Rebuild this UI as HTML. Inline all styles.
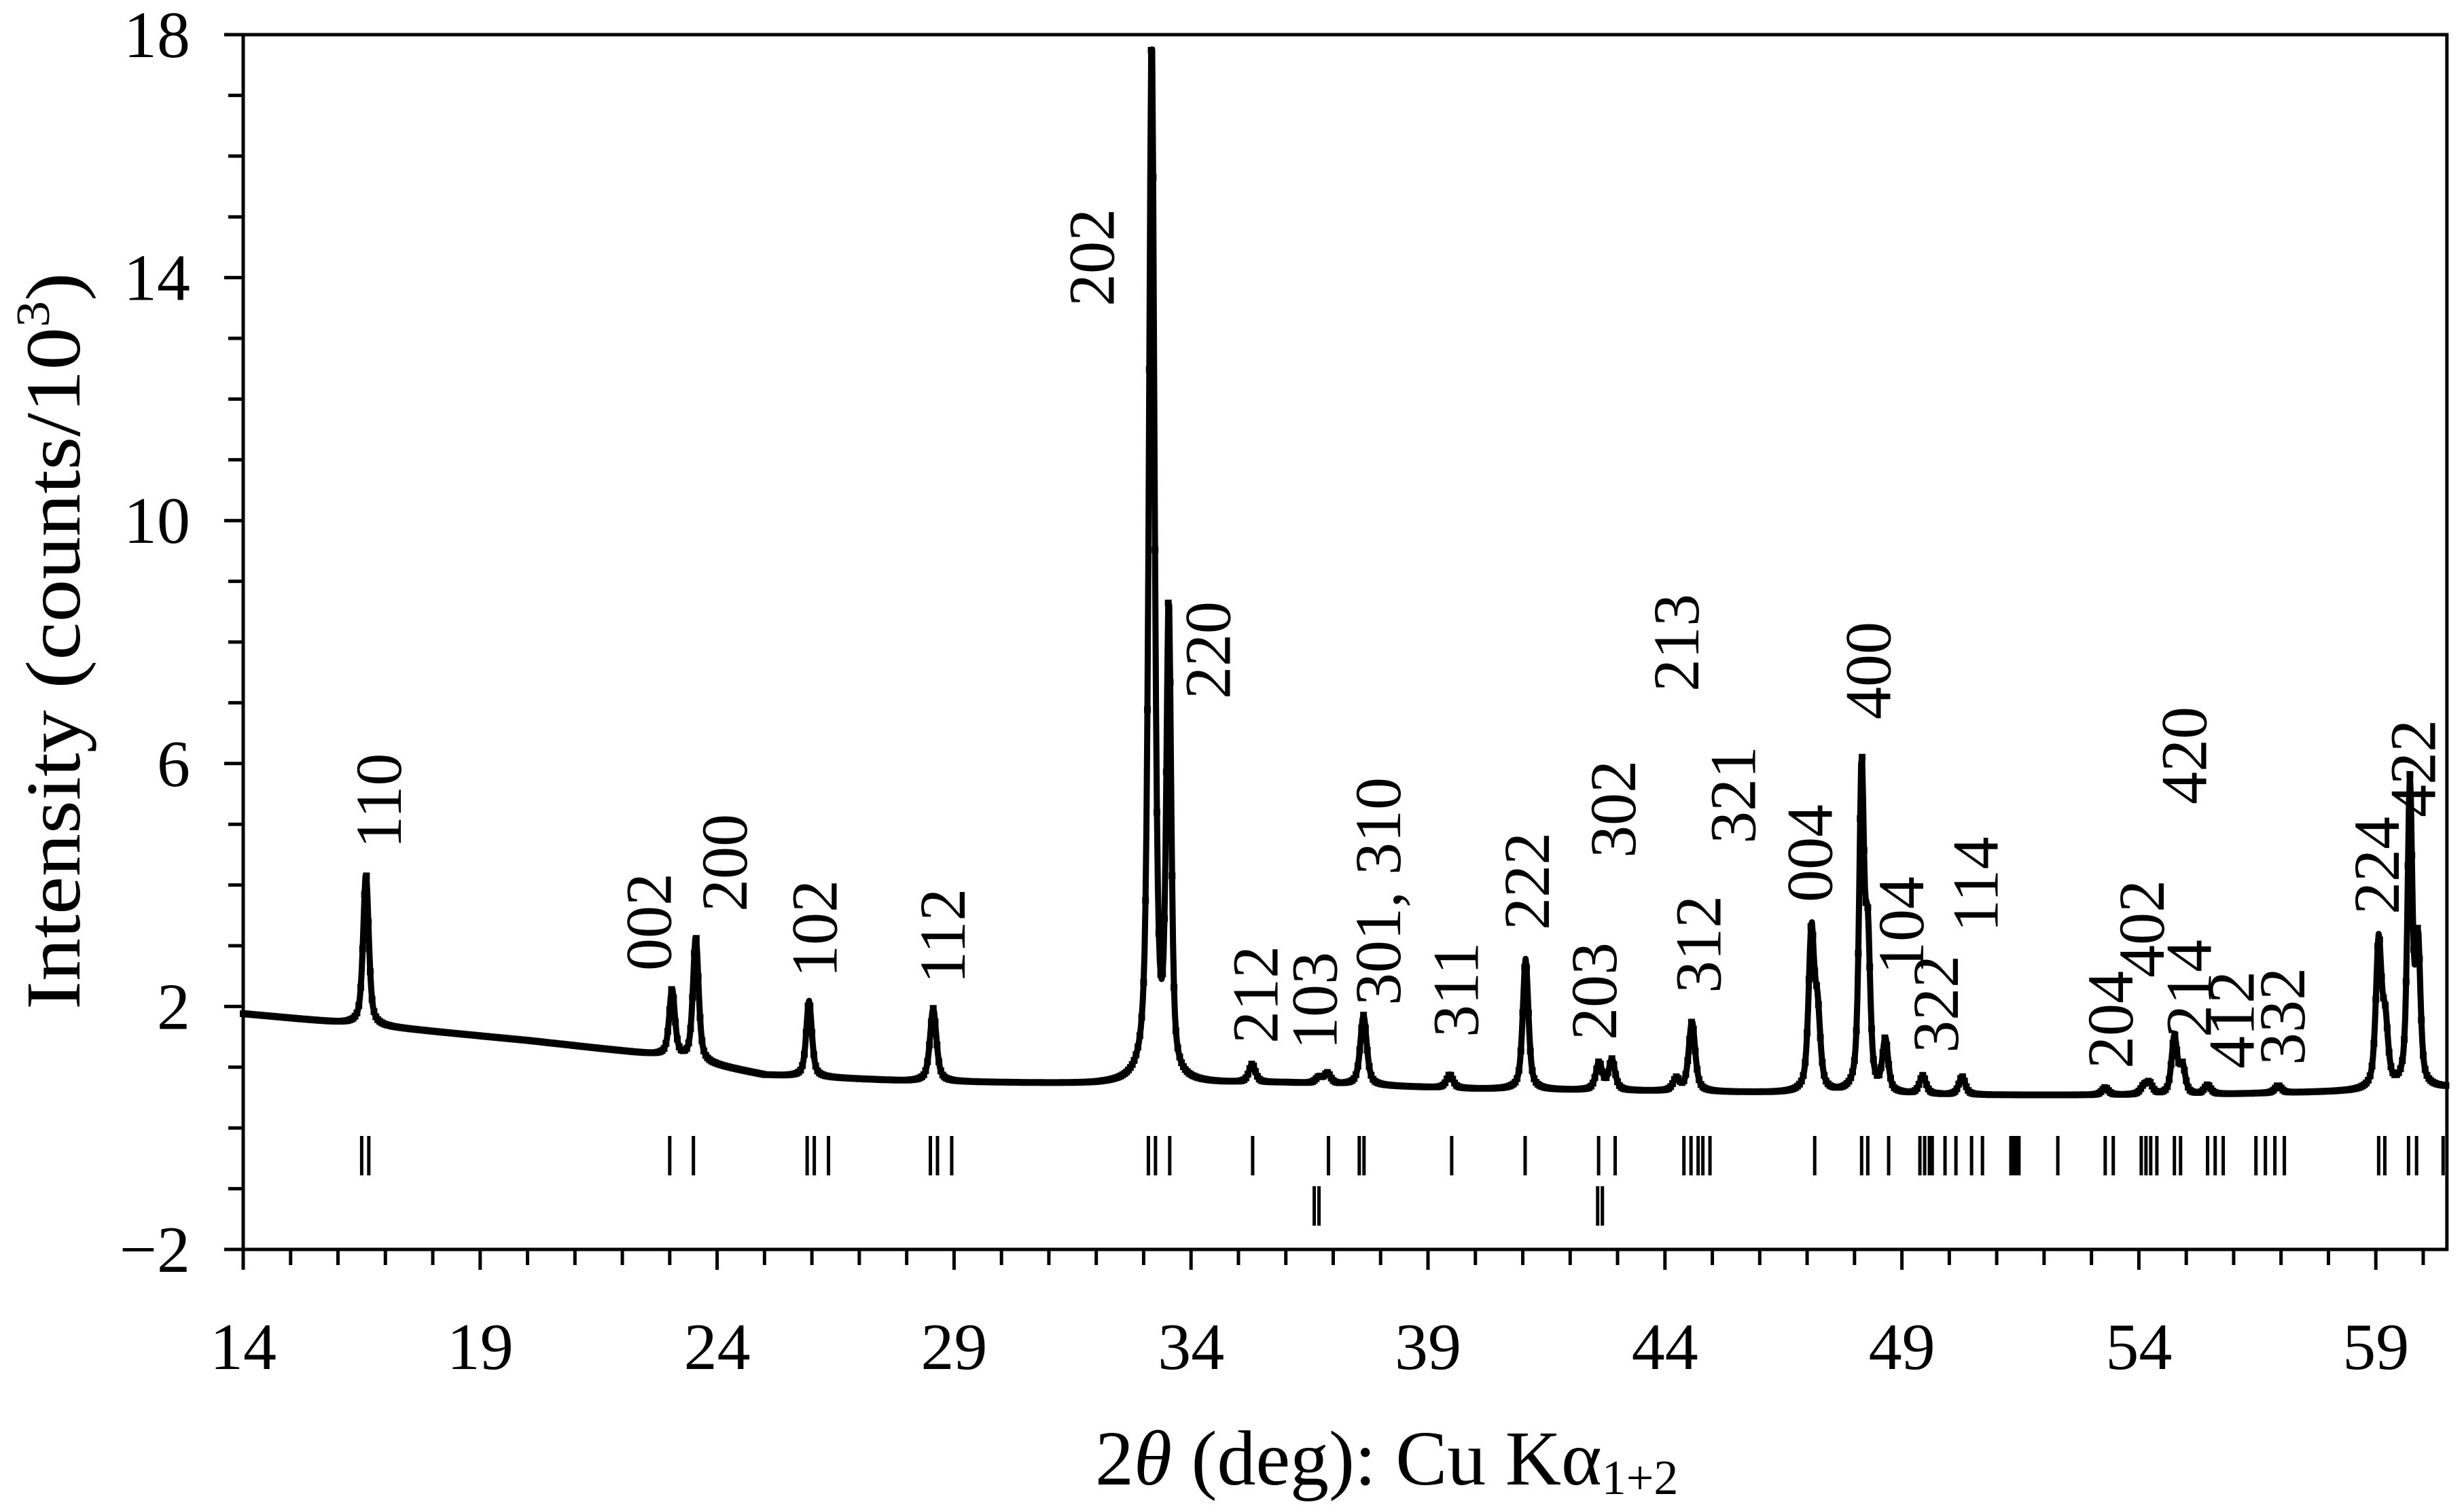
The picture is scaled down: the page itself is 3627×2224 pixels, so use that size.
<!DOCTYPE html>
<html><head><meta charset="utf-8"><style>
html,body{margin:0;padding:0;background:#fff;}
svg{display:block;}
text{font-family:"Liberation Serif",serif;fill:#000;}
</style></head><body>
<svg id="chart" width="3627" height="2224" viewBox="0 0 3627 2224" xmlns="http://www.w3.org/2000/svg">
<g id="plot"></g>
<g id="axes"></g>
<g id="labels"></g>
<text transform="translate(117,1486) rotate(-90)" font-size="114" textLength="1085" lengthAdjust="spacingAndGlyphs">Intensity (counts/10<tspan font-size="70" dy="-45">3</tspan><tspan dy="45">)</tspan></text>
<text x="1612" y="2185" font-size="114">2<tspan font-style="italic">θ</tspan> (deg): Cu Kα<tspan font-size="72" dy="14">1+2</tspan></text>
</svg>
<script>
// ---- data ----
const bgX = [14, 16.5, 20, 23, 25, 28, 32, 36, 40, 45, 50, 55, 58.5, 60.5];
const bgY = [1.88, 1.70, 1.44, 1.18, 0.87, 0.77, 0.72, 0.74, 0.64, 0.59, 0.54, 0.54, 0.60, 0.66];
const peakPos = [16.59, 23.05, 23.55, 25.94, 28.56, 33.17, 33.53, 35.29, 36.7, 36.88, 37.64, 39.46, 41.06, 42.61, 42.88, 44.24, 44.57, 47.09, 47.22, 48.15, 48.28, 48.65, 49.44, 50.27, 53.29, 54.1, 54.22, 54.75, 54.92, 55.45, 56.94, 59.06, 59.2, 59.72, 59.89];
const peakHt  = [2.5, 1.1, 2.05, 1.25, 1.2, 17.2, 7.7, 0.3, 0.1, 0.17, 1.15, 0.22, 2.15, 0.45, 0.5, 0.2, 1.15, 2.6, 1.2, 5.3, 2.4, 0.85, 0.3, 0.3, 0.12, 0.12, 0.18, 0.95, 0.45, 0.15, 0.12, 2.4, 1.0, 5.0, 2.3];
const peakW   = [0.07, 0.07, 0.07, 0.07, 0.08, 0.07, 0.06, 0.08, 0.08, 0.08, 0.08, 0.08, 0.07, 0.08, 0.08, 0.08, 0.08, 0.07, 0.07, 0.06, 0.06, 0.07, 0.08, 0.08, 0.08, 0.08, 0.08, 0.07, 0.07, 0.08, 0.08, 0.07, 0.07, 0.06, 0.06];
const refTicks1 = [16.5, 16.65, 23.0, 23.5, 25.9, 26.05, 26.35, 28.5, 28.65, 28.95, 33.1, 33.25, 33.55, 35.3, 36.9, 37.55, 37.65, 39.5, 41.05, 42.6, 42.95, 44.4, 44.55, 44.7, 44.8, 44.95, 47.16, 48.15, 48.28, 48.72, 49.38, 49.48, 49.58, 49.64, 49.91, 50.14, 50.47, 50.7, 51.3, 51.37, 51.43, 51.47, 52.29, 53.29, 53.46, 54.05, 54.15, 54.25, 54.38, 54.75, 54.88, 55.45, 55.61, 55.78, 56.47, 56.67, 56.87, 57.07, 59.06, 59.19, 59.69, 59.86, 60.42];
const refTicks2 = [36.6, 36.7, 42.58, 42.68];
const xTicks = [14, 19, 24, 29, 34, 39, 44, 49, 54, 59];
const yTicks = [-2, 2, 6, 10, 14, 18];
const hklLabels = ["110","002","200","102","112","202","220","212","103","301, 310","311","222","203","302","213","312","321","004","400","104","322","114","204","402","420","214","412","332","224","422"];
const hklX = [16.85, 22.55, 24.15, 26.05, 28.75, 31.9, 34.35, 35.35, 36.6, 37.94, 39.58, 41.08, 42.5, 42.9, 44.23, 44.7, 45.43, 47.05, 48.28, 48.98, 49.71, 50.55, 53.39, 54.05, 54.95, 55.05, 55.95, 57.02, 59.01, 59.78];
const hklBottom = [1249, 1429, 1342, 1439, 1448, 451, 1029, 1536, 1545, 1480, 1527, 1369, 1531, 1263, 1018, 1462, 1242, 1328, 1059, 1434, 1550, 1372, 1573, 1439, 1184, 1527, 1573, 1568, 1346, 1203];

// ---- axes functions ----
const X0 = 358, PXD = 69.76, XMIN = 14, XMAX = 60.5;
const Y0 = 1839, PYU = 89.4, YMIN = -2, YMAX = 18;
const sx = v => X0 + (v - XMIN) * PXD;
const sy = v => Y0 - (v - YMIN) * PYU;
const NS = 'http://www.w3.org/2000/svg';
function mk(tag, attrs, parent) {
  const e = document.createElementNS(NS, tag);
  for (const k in attrs) e.setAttribute(k, attrs[k]);
  parent.appendChild(e);
  return e;
}
function bg(x) {
  for (let i = 0; i < bgX.length - 1; i++) {
    if (x <= bgX[i + 1]) { const t = (x - bgX[i]) / (bgX[i + 1] - bgX[i]); return bgY[i] + t * (bgY[i + 1] - bgY[i]); }
  }
  return bgY[bgY.length - 1];
}
function intensity(x) {
  let y = bg(x);
  for (let i = 0; i < peakPos.length; i++) {
    const d = (x - peakPos[i]) / peakW[i];
    y += peakHt[i] * (0.6 / (1 + d * d) + 0.4 * Math.exp(-0.693 * d * d));
  }
  return y;
}
const plot = document.getElementById('plot');
const axes = document.getElementById('axes');
const labels = document.getElementById('labels');

// curve
let pts = [];
for (let x = XMIN; x <= XMAX + 1e-9; x += 0.02) pts.push([sx(x), sy(intensity(x))]);
const line = mk('polyline', {points: pts.map(p => p[0].toFixed(1) + ',' + p[1].toFixed(1)).join(' '), fill: 'none', stroke: '#000', 'stroke-width': 9, 'stroke-linejoin': 'round'}, plot);


const dots = mk('g', {}, plot);


let dpath = '';
for (let i = 0; i < pts.length; i += 2) dpath += 'M' + (pts[i][0] - 5).toFixed(1) + ' ' + pts[i][1].toFixed(1) + 'h10';
mk('path', {d: dpath, stroke: '#000', 'stroke-width': 10, fill: 'none'}, dots);

// reference ticks
refTicks1.forEach(v => {
  const r = mk('line', {x1: sx(v), x2: sx(v), y1: 1672, y2: 1730, stroke: '#000', 'stroke-width': 5}, plot);
  
  
});
refTicks2.forEach(v => {
  const r = mk('line', {x1: sx(v), x2: sx(v), y1: 1746, y2: 1804, stroke: '#000', 'stroke-width': 5}, plot);
  
  
});

// frame
const frame = mk('path', {d: `M${X0} ${sy(YMAX)}V${Y0}H${sx(XMAX)}V${sy(YMAX)}H${X0}`, fill: 'none', stroke: '#000', 'stroke-width': 5}, axes);



// x ticks
for (let v = XMIN; v <= XMAX; v += 1) {
  const major = xTicks.includes(v);
  const t = mk('line', {x1: sx(v), x2: sx(v), y1: Y0, y2: Y0 + (major ? 30 : 23), stroke: '#000', 'stroke-width': 5}, axes);
  
  
}
xTicks.forEach(v => {
  const t = mk('text', {x: sx(v), y: 2015, 'font-size': 98, 'text-anchor': 'middle'}, axes);
  t.textContent = v;
  
  
});
// y ticks
for (let v = YMIN; v <= YMAX; v += 1) {
  const major = yTicks.includes(v);
  const t = mk('line', {x1: X0 - (major ? 28 : 22), x2: X0, y1: sy(v), y2: sy(v), stroke: '#000', 'stroke-width': 5}, axes);
  
  
}
yTicks.forEach(v => {
  const t = mk('text', {x: 280, y: sy(v) + 33, 'font-size': 98, 'text-anchor': 'end'}, axes);
  t.textContent = v < 0 ? '\u2212' + (-v) : v;
  
  
});

// hkl labels
hklLabels.forEach((s, i) => {
  const bx = sx(hklX[i]) + 33;
  const t = mk('text', {transform: `translate(${bx.toFixed(1)},${hklBottom[i]}) rotate(-90)`, 'font-size': 96}, labels);
  t.textContent = s;
  
  
});
</script>
</body></html>
